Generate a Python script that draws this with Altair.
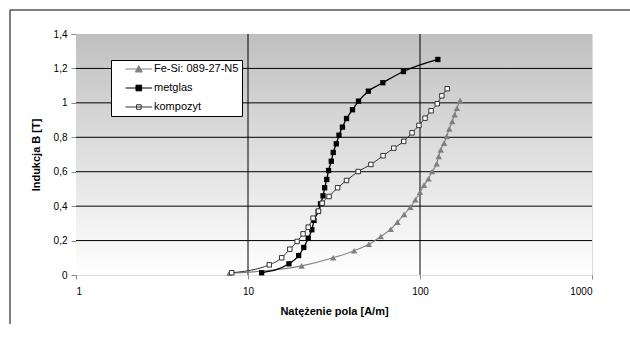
import altair as alt
import pandas as pd

# ---- data ----
series_names = ["Fe-Si: 089-27-N5", "metglas", "kompozyt"]

fesi_H = [7.8, 20.5, 31.3, 41.4, 50.4, 59.2, 67.6, 73.9, 80.8, 87.9, 94.0, 100, 105.5,
          112, 117.5, 125, 128.5, 132, 138, 143, 148, 154, 159, 164, 171]
fesi_B = [0.01, 0.053, 0.10, 0.141, 0.179, 0.224, 0.266, 0.307, 0.352, 0.394, 0.437, 0.481,
          0.522, 0.559, 0.601, 0.646, 0.689, 0.727, 0.766, 0.805, 0.849, 0.892, 0.931, 0.969, 1.014]

metglas_H = [12.0, 17.3, 19.7, 21.1, 22.4, 23.5, 24.2, 25.6, 26.4, 27.3, 27.9, 28.7, 29.4,
             30.5, 31.3, 32.6, 33.8, 35.4, 37.4, 40.5, 43.9, 50.1, 60.8, 80.1, 127]
metglas_B = [0.013, 0.065, 0.113, 0.16, 0.214, 0.263, 0.317, 0.369, 0.414, 0.46, 0.507, 0.555,
             0.607, 0.661, 0.712, 0.762, 0.812, 0.859, 0.909, 0.96, 1.01, 1.068, 1.117, 1.182, 1.252]

kompozyt_H = [8.04, 13.3, 15.7, 17.5, 19.3, 20.9, 22.4, 23.9, 25.7, 27.0, 29.6, 33.2, 37.4,
              43.7, 51.8, 61.0, 70.4, 80.4, 89.9, 98.6, 107, 116, 126, 134, 144]
kompozyt_B = [0.013, 0.059, 0.10, 0.15, 0.195, 0.239, 0.278, 0.33, 0.371, 0.417, 0.456, 0.507,
              0.549, 0.601, 0.642, 0.693, 0.737, 0.776, 0.826, 0.869, 0.911, 0.954, 0.995, 1.041, 1.082]

x_ticks = [1, 10, 100, 1000]
y_ticks = [0, 0.2, 0.4, 0.6, 0.8, 1.0, 1.2, 1.4]
x_grid = [10, 100]
y_grid = [0.2, 0.4, 0.6, 0.8, 1.0, 1.2]

# ---- build table ----
rows = []
for name, hs, bs in [(series_names[0], fesi_H, fesi_B),
                     (series_names[1], metglas_H, metglas_B),
                     (series_names[2], kompozyt_H, kompozyt_B)]:
    for i, (h, b) in enumerate(zip(hs, bs)):
        rows.append({"series": name, "H": h, "B": b, "idx": i})
df = pd.DataFrame(rows)

W, H = 516, 241
FONT = "Liberation Sans"

x_scale = alt.Scale(type="log", domain=[1, 1000])
y_scale = alt.Scale(domain=[0, 1.4])

x_axis = alt.Axis(values=x_ticks, format="d", title="Natężenie pola [A/m]",
                  grid=False, tickSize=4, labelPadding=7, titlePadding=9,
                  domain=False, labelOverlap=False)
y_axis = alt.Axis(values=y_ticks, title="Indukcja B [T]",
                  labelExpr="replace(format(datum.value, '.1~f'), '.', ',')",
                  grid=False, tickSize=5, labelPadding=4, titlePadding=12,
                  domain=False, labelOverlap=False)

x_enc = alt.X("H:Q", scale=x_scale, axis=x_axis)
y_enc = alt.Y("B:Q", scale=y_scale, axis=y_axis)

base = alt.Chart(df)

bg = alt.Chart(pd.DataFrame({"a": [0]})).mark_rect(
    color=alt.LinearGradient(gradient="linear",
                             stops=[alt.GradientStop(color="#c0c0c0", offset=0),
                                    alt.GradientStop(color="#ffffff", offset=1)],
                             x1=0, x2=0, y1=0, y2=1)
).encode(x=alt.value(0), x2=alt.value(W), y=alt.value(0), y2=alt.value(H))

# gridlines (through the scales)
vgrid = alt.Chart(pd.DataFrame({"H": x_grid})).mark_rule(color="black", strokeWidth=1).encode(
    x=alt.X("H:Q", scale=x_scale, axis=x_axis))
hgrid = alt.Chart(pd.DataFrame({"B": y_grid})).mark_rule(color="black", strokeWidth=1).encode(
    y=alt.Y("B:Q", scale=y_scale, axis=y_axis))

line_styles = {
    series_names[0]: dict(color="#808080", strokeWidth=1.1),
    series_names[1]: dict(color="#000000", strokeWidth=1.3),
    series_names[2]: dict(color="#333333", strokeWidth=1.0),
}

layers = [bg, vgrid, hgrid]
for name in series_names:
    sub = base.transform_filter(alt.datum.series == name)
    layers.append(sub.mark_line(interpolate="monotone", **line_styles[name]).encode(
        x=x_enc, y=y_enc, order="idx:Q"))

layers.append(base.transform_filter(alt.datum.series == series_names[0]).mark_point(
    shape="triangle-up", filled=True, color="#808080", size=42, opacity=1).encode(x=x_enc, y=y_enc))
layers.append(base.transform_filter(alt.datum.series == series_names[1]).mark_point(
    shape="square", filled=True, color="#000000", size=28, opacity=1).encode(x=x_enc, y=y_enc))
layers.append(base.transform_filter(alt.datum.series == series_names[2]).mark_point(
    shape="square", fill="#ffffff", stroke="#333333", strokeWidth=1, size=20, opacity=1).encode(x=x_enc, y=y_enc))

# legend (driven by scales only)
leg_paths = [
    "M-0.42,0H0.98M0.1,0.16L0.28,-0.18L0.46,0.16Z",
    "M-0.42,0H0.98M0.13,-0.15H0.43V0.15H0.13Z",
    "M-0.42,0H0.98M0.16,-0.12H0.40V0.12H0.16Z",
]
legend = alt.Legend(orient="none", legendX=35, legendY=26, title=None, padding=3,
                    strokeColor="black", fillColor="white", symbolSize=1444,
                    symbolStrokeWidth=1, labelFont=FONT, labelFontSize=11, labelColor="black",
                    labelOffset=1, clipHeight=12, rowPadding=7, zindex=2)
leg_layer = alt.Chart(pd.DataFrame({"series": series_names})).transform_filter("false").mark_point(
    opacity=1).encode(
    x=x_enc, y=y_enc,
    shape=alt.Shape("series:N", scale=alt.Scale(domain=series_names, range=leg_paths), legend=legend),
    fill=alt.Fill("series:N", scale=alt.Scale(domain=series_names, range=["#808080", "#000000", "#ffffff"]), legend=legend),
    stroke=alt.Stroke("series:N", scale=alt.Scale(domain=series_names, range=["#808080", "#000000", "#333333"]), legend=legend),
)
layers.append(leg_layer)

# outer frame
frame = alt.Chart(pd.DataFrame({"a": [0]}))
layers.append(frame.mark_rule(color="black", strokeWidth=1).encode(
    x=alt.value(-66), x2=alt.value(560), y=alt.value(-24)))
layers.append(frame.mark_rule(color="black", strokeWidth=1).encode(
    x=alt.value(-66), y=alt.value(-24), y2=alt.value(290)))

chart = alt.layer(*layers).properties(
    width=W, height=H,
    autosize=alt.AutoSizeParams(type="none"),
    padding={"left": 76, "top": 34, "right": 38, "bottom": 62},
).configure_view(stroke="black", strokeWidth=1).configure_axis(
    labelFont=FONT, labelFontSize=11, labelColor="black",
    titleFont=FONT, titleFontSize=11, titleColor="black", titleFontWeight="bold",
    tickColor="black"
).configure(background="white")

chart.save("out.html", embed_options={"renderer": "svg", "actions": False})
